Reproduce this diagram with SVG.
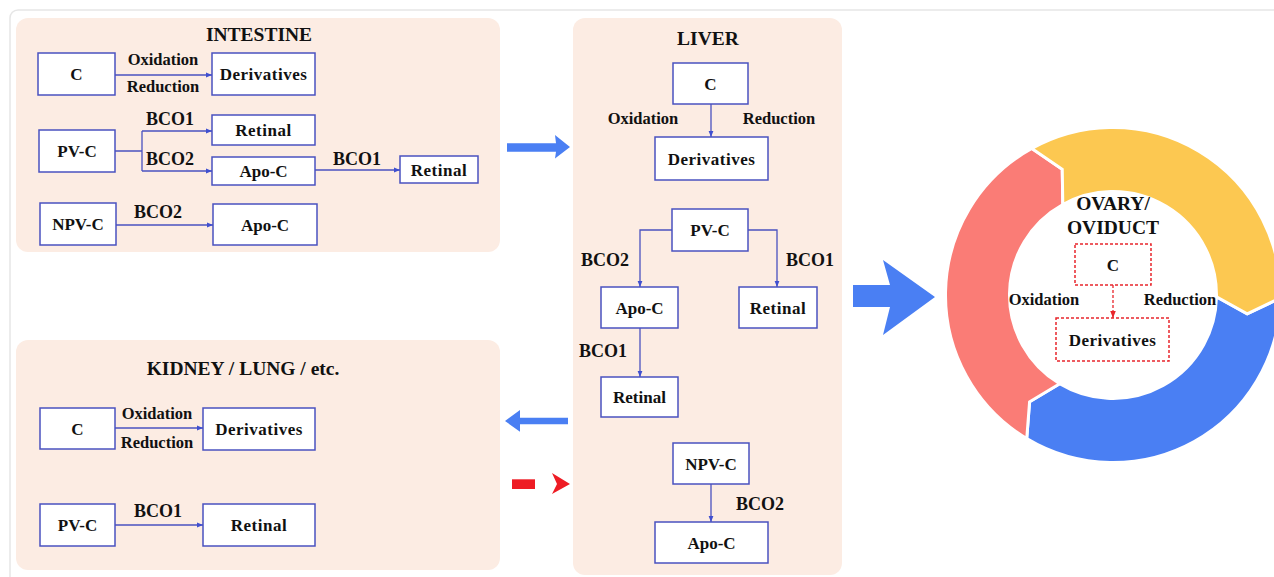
<svg xmlns="http://www.w3.org/2000/svg" width="1274" height="577" viewBox="0 0 1274 577">
<defs>
<style>
text{font-family:"Liberation Serif","Times New Roman",serif;font-weight:bold;fill:#111;text-anchor:middle}
.t{font-size:19.5px}
.n{font-size:17px}
.l{font-size:16.5px}
.b{font-size:18px}
.panel{fill:#fcece3}
.box{fill:#fff;stroke:#4a52c0;stroke-width:1.5}
.dbox{fill:#fff;stroke:#e8262c;stroke-width:1.5;stroke-dasharray:3 2}
.c{fill:none;stroke:#4a52c0;stroke-width:1.3}
.ca{fill:none;stroke:#4a52c0;stroke-width:1.3;marker-end:url(#ah)}
.seg{stroke:#fff;stroke-width:3;stroke-linejoin:miter}
</style>
<marker id="ah" viewBox="0 0 10 10" refX="10" refY="5" markerWidth="6" markerHeight="6" markerUnits="userSpaceOnUse" orient="auto">
<path d="M0,1 L10,5 L0,9 z" fill="#3f4fd0"/>
</marker>
<marker id="rh" viewBox="0 0 10 10" refX="10" refY="5" markerWidth="7" markerHeight="7" markerUnits="userSpaceOnUse" orient="auto">
<path d="M0,1 L10,5 L0,9 z" fill="#e8262c"/>
</marker>
</defs>
<rect width="1274" height="577" fill="#fff"/>
<rect x="10" y="10" width="1300" height="600" rx="8" fill="none" stroke="#e6e6e6" stroke-width="1.5"/>

<g id="panels">
<rect id="intestine-panel" class="panel" x="16" y="18" width="484" height="234" rx="12"/>
<rect id="kidney-panel" class="panel" x="16" y="340" width="484" height="230" rx="12"/>
<rect id="liver-panel" class="panel" x="573" y="18" width="269" height="557" rx="12"/>
</g>

<g id="ring">
<path id="seg-blue" class="seg" fill="#4a7ff3" d="M1280.47,297.92 A167.5,167.5 0 0 1 1026.73,438.58 L1029.58,401.78 L1059.69,383.72 A103.5,103.5 0 0 0 1216.48,296.81 L1247.18,313.86 Z"/>
<path id="seg-red" class="seg" fill="#fa7c76" d="M1026.73,438.58 A167.5,167.5 0 0 1 1031.79,148.50 L1062.24,169.37 L1062.82,204.48 A103.5,103.5 0 0 0 1059.69,383.72 L1029.58,401.78 Z"/>
<path id="seg-yellow" class="seg" fill="#fcc851" d="M1031.79,148.50 A167.5,167.5 0 0 1 1280.47,297.92 L1247.18,313.86 L1216.48,296.81 A103.5,103.5 0 0 0 1062.82,204.48 L1062.24,169.37 Z"/>
</g>

<g id="big-arrows">
<polygon id="arrow-intestine-liver" fill="#4a7ff3" points="507,143.3 556,143.3 555,135 570,147 555,158.5 556,151.7 507,151.7"/>
<polygon id="arrow-liver-kidney" fill="#4a7ff3" points="568,417.7 520,417.7 520,410 505,421 520,431.7 520,424.3 568,424.3"/>
<g id="arrow-red-dashed" fill="#ee1c24">
<rect x="512" y="479.3" width="23" height="9.7"/>
<polygon points="552,473 570,484 552,494 557,484"/>
</g>
<polygon id="arrow-liver-ovary" fill="#4a7ff3" points="853,285 890,285 883,260 935,297 883,335 890,307 853,307"/>
</g>

<g id="connectors">
<path class="ca" d="M115,75 H212"/>
<path class="c" d="M115,151 H142 M142,131 V171"/>
<path class="ca" d="M142,131 H212"/>
<path class="ca" d="M142,171 H212"/>
<path class="ca" d="M315,170 H400"/>
<path class="ca" d="M116,225 H213"/>
<path class="ca" d="M115,428 H203"/>
<path class="ca" d="M115,525 H203"/>
<path class="ca" d="M711,104 V137"/>
<path class="ca" d="M672,230 H640 V287"/>
<path class="ca" d="M748,230 H777 V287"/>
<path class="ca" d="M640,328 V377"/>
<path class="ca" d="M711,484 V522"/>
<path fill="none" stroke="#e8262c" stroke-width="1.3" stroke-dasharray="3 2" marker-end="url(#rh)" d="M1113,285 V318"/>
</g>

<g id="labels">
<text class="t" x="259" y="41">INTESTINE</text>
<text class="l" x="163" y="65">Oxidation</text>
<text class="l" x="163" y="92">Reduction</text>
<text class="b" x="170" y="125">BCO1</text>
<text class="b" x="170" y="165">BCO2</text>
<text class="b" x="357" y="165">BCO1</text>
<text class="b" x="158" y="218">BCO2</text>
<text class="t" x="243" y="375">KIDNEY / LUNG / etc.</text>
<text class="l" x="157" y="419">Oxidation</text>
<text class="l" x="157" y="448">Reduction</text>
<text class="b" x="158" y="517">BCO1</text>
<text class="t" x="708" y="45">LIVER</text>
<text class="l" x="643" y="124">Oxidation</text>
<text class="l" x="779" y="124">Reduction</text>
<text class="b" x="605" y="266">BCO2</text>
<text class="b" x="810" y="266">BCO1</text>
<text class="b" x="603" y="357">BCO1</text>
<text class="b" x="760" y="510">BCO2</text>
<text class="t" x="1113" y="210">OVARY/</text>
<text class="t" x="1113" y="234">OVIDUCT</text>
<text class="l" x="1044" y="305">Oxidation</text>
<text class="l" x="1180" y="305">Reduction</text>
</g>

<g id="int-c"><rect class="box" x="38" y="53" width="77" height="42"/><text class="n" x="76.5" y="80">C</text></g>
<g id="int-derivatives"><rect class="box" x="212" y="53" width="103" height="42"/><text class="n" x="263.5" y="80" letter-spacing="0.5">Derivatives</text></g>
<g id="int-pvc"><rect class="box" x="39" y="130" width="76" height="42"/><text class="n" x="77" y="157">PV-C</text></g>
<g id="int-retinal1"><rect class="box" x="212" y="115" width="103" height="30"/><text class="n" x="263.5" y="136" letter-spacing="0.5">Retinal</text></g>
<g id="int-apoc1"><rect class="box" x="212" y="157" width="103" height="28"/><text class="n" x="263.5" y="177">Apo-C</text></g>
<g id="int-retinal2"><rect class="box" x="400" y="156" width="78" height="27"/><text class="n" x="439" y="175.5" letter-spacing="0.5">Retinal</text></g>
<g id="int-npvc"><rect class="box" x="40" y="203" width="76" height="42"/><text class="n" x="78" y="230">NPV-C</text></g>
<g id="int-apoc2"><rect class="box" x="213" y="204" width="104" height="41"/><text class="n" x="265" y="230.5">Apo-C</text></g>

<g id="kid-c"><rect class="box" x="40" y="408" width="75" height="41"/><text class="n" x="77.5" y="434.5">C</text></g>
<g id="kid-derivatives"><rect class="box" x="203" y="408" width="112" height="42"/><text class="n" x="259" y="435" letter-spacing="0.5">Derivatives</text></g>
<g id="kid-pvc"><rect class="box" x="40" y="504" width="75" height="42"/><text class="n" x="77.5" y="531">PV-C</text></g>
<g id="kid-retinal"><rect class="box" x="203" y="504" width="112" height="42"/><text class="n" x="259" y="531" letter-spacing="0.5">Retinal</text></g>

<g id="liv-c"><rect class="box" x="673" y="63" width="75" height="41"/><text class="n" x="710.5" y="89.5">C</text></g>
<g id="liv-derivatives"><rect class="box" x="655" y="137" width="113" height="43"/><text class="n" x="711.5" y="164.5" letter-spacing="0.5">Derivatives</text></g>
<g id="liv-pvc"><rect class="box" x="672" y="209" width="76" height="42"/><text class="n" x="710" y="236">PV-C</text></g>
<g id="liv-apoc1"><rect class="box" x="601" y="287" width="77" height="41"/><text class="n" x="639.5" y="313.5">Apo-C</text></g>
<g id="liv-retinal1"><rect class="box" x="739" y="287" width="78" height="41"/><text class="n" x="778" y="313.5" letter-spacing="0.5">Retinal</text></g>
<g id="liv-retinal2"><rect class="box" x="601" y="377" width="77" height="40"/><text class="n" x="639.5" y="403">Retinal</text></g>
<g id="liv-npvc"><rect class="box" x="673" y="443" width="76" height="41"/><text class="n" x="711" y="469.5">NPV-C</text></g>
<g id="liv-apoc2"><rect class="box" x="655" y="522" width="113" height="41"/><text class="n" x="711.5" y="548.5">Apo-C</text></g>

<g id="ov-c"><rect class="dbox" x="1075" y="244" width="76" height="41"/><text class="n" x="1113" y="270.5">C</text></g>
<g id="ov-derivatives"><rect class="dbox" x="1056" y="318" width="113" height="43"/><text class="n" x="1112.5" y="345.5" letter-spacing="0.5">Derivatives</text></g>
</svg>
